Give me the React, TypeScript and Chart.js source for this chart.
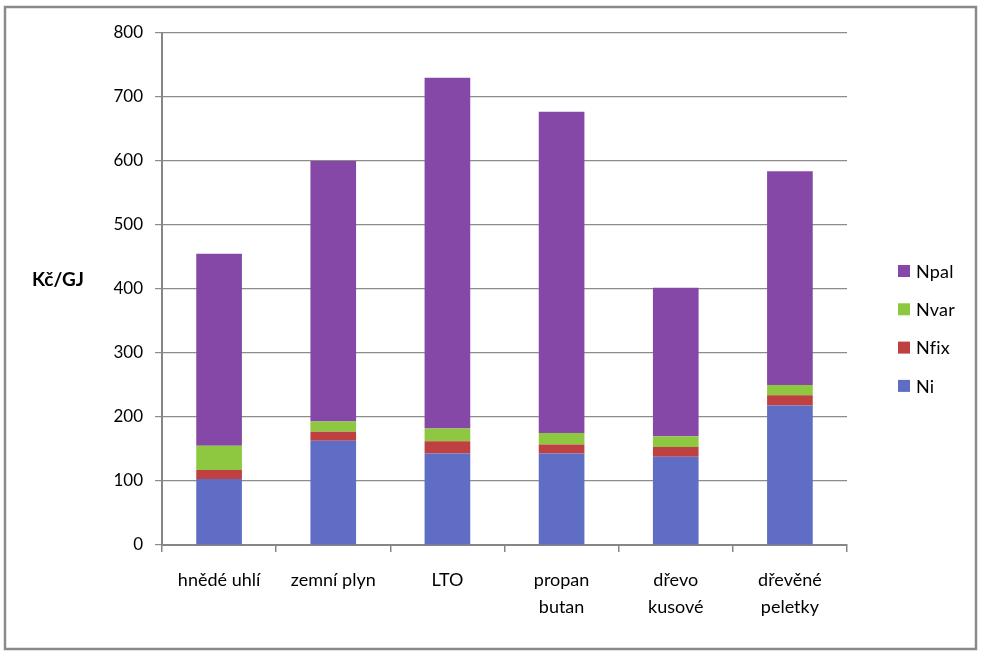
import React, { useEffect, useRef } from "react";
import { Chart, registerables } from "chart.js";

Chart.register(...registerables);

const categories: (string | string[])[] = [
  "hnědé uhlí",
  "zemní plyn",
  "LTO",
  ["propan", "butan"],
  ["dřevo", "kusové"],
  ["dřevěné", "peletky"],
];
const Ni = [103, 163, 143, 143, 138, 218];
const Nfix = [14, 14, 19, 14, 15, 16];
const Nvar = [38, 16, 20, 18, 17, 16];
const Npal = [300, 407, 548, 502, 232, 334];
const seriesNames = ["Ni", "Nfix", "Nvar", "Npal"];
const seriesColors = ["#5F6EC4", "#BF4040", "#8DC840", "#8648A7"];
const yTitle = "Kč/GJ";

const FONT = "Lato, 'Open Sans', sans-serif";

const framePlugin = {
  id: "frameAndLegend",
  afterDraw(chart: any) {
    const ctx = chart.ctx;
    ctx.save();
    // outer frame
    ctx.strokeStyle = "#8a8a8a";
    ctx.lineWidth = 2.5;
    ctx.strokeRect(5, 7, 971, 642);
    // y title
    ctx.fillStyle = "#000";
    ctx.font = `bold 19px ${FONT}`;
    ctx.textAlign = "center";
    ctx.textBaseline = "middle";
    ctx.fillText(yTitle, 58, 280);
    // legend (reversed order)
    const ds = chart.data.datasets;
    ctx.font = `18px ${FONT}`;
    ctx.textAlign = "left";
    try {
      (ctx as any).letterSpacing = "0.2px";
    } catch (e) {}
    for (let i = 0; i < ds.length; i++) {
      const d = ds[ds.length - 1 - i];
      const cy = 271 + i * 38.3;
      ctx.fillStyle = d.backgroundColor;
      ctx.fillRect(898, cy - 6, 12, 12);
      ctx.fillStyle = "#000";
      ctx.fillText(d.label, 916, cy + 1);
    }
    ctx.restore();
  },
};

export default function App() {
  const ref = useRef<HTMLCanvasElement | null>(null);
  useEffect(() => {
    if (!ref.current) return;
    const values = [Ni, Nfix, Nvar, Npal];
    const chart = new Chart(ref.current, {
      type: "bar",
      data: {
        labels: categories,
        datasets: values.map((v, i) => ({
          label: seriesNames[i],
          data: v,
          backgroundColor: seriesColors[i],
          borderWidth: 0,
          barPercentage: 0.4,
          categoryPercentage: 1,
        })),
      },
      options: {
        animation: false,
        responsive: false,
        maintainAspectRatio: false,
        layout: { padding: { left: 0, top: 33, right: 141, bottom: 0 } },
        plugins: {
          legend: { display: false },
          tooltip: { enabled: false },
        },
        scales: {
          x: {
            stacked: true,
            grid: {
              drawOnChartArea: false,
              drawTicks: true,
              tickLength: 7,
              color: "#868686",
              lineWidth: 1.5,
            },
            border: { color: "#868686", width: 2 },
            ticks: {
              color: "#000",
              font: { family: FONT, size: 18, lineHeight: 1.5 },
              padding: 15,
              maxRotation: 0,
              autoSkip: false,
            },
            afterFit: (s: any) => {
              s.height = 112;
            },
          },
          y: {
            stacked: true,
            min: 0,
            max: 800,
            ticks: {
              stepSize: 100,
              color: "#000",
              font: { family: FONT, size: 17 },
              padding: 12,
            },
            grid: {
              color: "#8c8c8c",
              lineWidth: 1.2,
              tickLength: 7,
            },
            border: { color: "#868686", width: 2 },
            afterFit: (s: any) => {
              s.width = 162;
            },
          },
        },
      },
      plugins: [framePlugin],
    });
    return () => chart.destroy();
  }, []);
  return (
    <div
      style={{
        position: "absolute",
        left: 0,
        top: 0,
        width: 988,
        height: 657,
        background: "#fff",
      }}
    >
      <canvas ref={ref} width={988} height={657} />
    </div>
  );
}
